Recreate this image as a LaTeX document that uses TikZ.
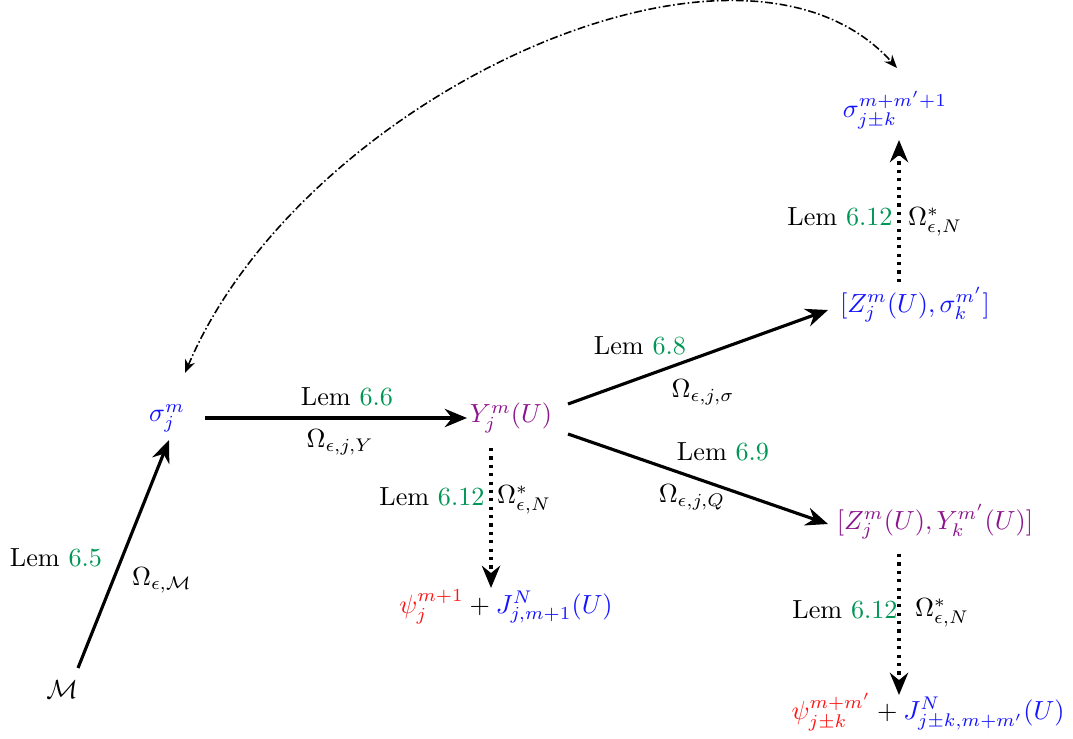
\documentclass[tikz,border=0pt]{standalone}
\usetikzlibrary{arrows.meta}
\definecolor{cgreen}{RGB}{0,150,85}
\definecolor{cblue}{RGB}{20,20,255}
\definecolor{cpurple}{RGB}{140,20,140}
\definecolor{cred}{RGB}{255,20,20}
\newcommand{\lemref}[1]{Lem \textcolor{cgreen}{#1}}
\begin{document}
\begin{tikzpicture}[x=0.3817pt,y=-0.3817pt,
  obj/.style={inner sep=0pt,outer sep=0pt},
  lbl/.style={inner sep=0pt,outer sep=0pt},
  tip/.style={-{Stealth[length=8.5pt,width=7pt,inset=2.8pt]}},
  mainarrow/.style={line width=1.2pt,tip},
  dotarrow/.style={line width=1.2pt,dotted,tip},
  looparrow/.style={line width=0.6pt,densely dash dot,{Stealth[length=5pt,width=4pt,inset=1.6pt]}-{Stealth[length=5pt,width=4pt,inset=1.6pt]}}]
\useasboundingbox (0,0) rectangle (1073,738);

% objects
\node[obj] (M) at (62,690) {$\mathcal{M}$};
\node[obj,text=cblue] (sig) at (167,418) {$\sigma_j^m$};
\node[obj,text=cpurple] (Y) at (511,418) {$Y_j^m(U)$};
\node[obj,text=cblue] (Zs) at (915,305) {$[Z_j^m(U),\sigma_k^{m'}]$};
\node[obj,text=cblue] (s3) at (895,110) {$\sigma_{j\pm k}^{m+m'+1}$};
\node[obj,text=cpurple] (ZY) at (935,522) {$[Z_j^m(U),Y_k^{m'}(U)]$};
\node[obj] (P1) at (506,607) {$\textcolor{cred}{\psi_j^{m+1}}+\textcolor{cblue}{J^N_{j,m+1}(U)}$};
\node[obj] (P2) at (928,712) {$\textcolor{cred}{\psi_{j\pm k}^{m+m'}}+\textcolor{cblue}{J^N_{j\pm k,m+m'}(U)}$};

% labels
\node[lbl] (l65) at (56,558) {\lemref{6.5}};
\node[lbl] (o65) at (162,580) {$\Omega_{\epsilon,\mathcal{M}}$};
\node[lbl] (l66) at (347,397) {\lemref{6.6}};
\node[lbl] (o66) at (340,442) {$\Omega_{\epsilon,j,Y}$};
\node[lbl] (l68) at (640,346) {\lemref{6.8}};
\node[lbl] (o68) at (703,392) {$\Omega_{\epsilon,j,\sigma}$};
\node[lbl] (l69) at (723,452) {\lemref{6.9}};
\node[lbl] (o69) at (692,497) {$\Omega_{\epsilon,j,Q}$};
\node[lbl] (l12a) at (840,217) {\lemref{6.12}};
\node[lbl] (o12a) at (935,222) {$\Omega^*_{\epsilon,N}$};
\node[lbl] (l12b) at (432,497) {\lemref{6.12}};
\node[lbl] (o12b) at (524,500) {$\Omega^*_{\epsilon,N}$};
\node[lbl] (l12c) at (845,610) {\lemref{6.12}};
\node[lbl] (o12c) at (942,613) {$\Omega^*_{\epsilon,N}$};

% connectors
\draw[mainarrow] ([shift={(16,-22)}]M.center) -- ([shift={(2,22)}]sig.center);
\draw[mainarrow] ([shift={(38,0)}]sig.center) -- ([shift={(-44,0)}]Y.center);
\draw[mainarrow] ([shift={(57,-14)}]Y.center) -- ([shift={(-87,5)}]Zs.center);
\draw[mainarrow] ([shift={(57,16)}]Y.center) -- ([shift={(-107,2)}]ZY.center);
\draw[dotarrow] ([shift={(-20,30)}]Y.center) -- ([shift={(-15,-19)}]P1.center);
\draw[dotarrow] ([shift={(-36,32)}]ZY.center) -- ([shift={(-29,-17)}]P2.center);
\draw[dotarrow] ([shift={(-16,-23)}]Zs.center) -- ([shift={(4,30)}]s3.center);
\draw[looparrow] ([shift={(18,-45)}]sig.center) to[out=67,in=132,out distance=114.5pt,in distance=89.7pt] ([shift={(2,-42)}]s3.center);
\end{tikzpicture}
\end{document}
